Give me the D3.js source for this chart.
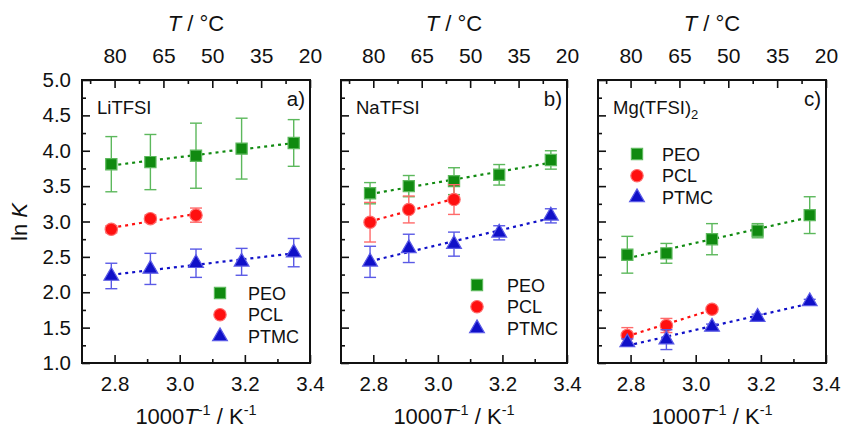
<!DOCTYPE html>
<html>
<head>
<meta charset="utf-8">
<script src="https://cdn.jsdelivr.net/npm/d3@7"></script>
<style>
  body { margin: 0; background: #fff; }
  svg { display: block; font-family: "Liberation Sans", Arial, sans-serif; }
  .tick text { font-family: "Liberation Sans", Arial, sans-serif; fill: #111; }
</style>
</head>
<body>
<svg id="chart" width="843" height="430"></svg>
<script>
// x positions, 1000/T in 1/K
const invT = [2.79, 2.91, 3.05, 3.19, 3.35];
const xTicks = [2.8, 3.0, 3.2, 3.4];
const xMinor = [2.9, 3.1, 3.3];
const topTicks = [80, 65, 50, 35, 20];
const topMinor = [87.5, 72.5, 57.5, 42.5, 27.5];
const yTicks = [1.0, 1.5, 2.0, 2.5, 3.0, 3.5, 4.0, 4.5, 5.0];
const yMinor = [1.25, 1.75, 2.25, 2.75, 3.25, 3.75, 4.25, 4.75];

const salts = ["LiTFSI", "NaTFSI", "Mg(TFSI)"];
const letters = ["a)", "b)", "c)"];
const polymers = ["PEO", "PCL", "PTMC"];

// ln K values (PCL only measured at the three highest temperatures)
const liPEO = [3.81, 3.84, 3.93, 4.03, 4.11];
const liPEOErr = [0.39, 0.39, 0.46, 0.43, 0.33];
const liPCL = [2.89, 3.04, 3.09];
const liPCLErr = [0.05, 0.05, 0.1];
const liPTMC = [2.23, 2.33, 2.41, 2.43, 2.56];
const liPTMCErr = [0.18, 0.22, 0.2, 0.19, 0.2];

const naPEO = [3.40, 3.50, 3.57, 3.66, 3.87];
const naPEOErr = [0.15, 0.15, 0.19, 0.145, 0.13];
const naPCL = [2.99, 3.17, 3.31];
const naPCLErr = [0.28, 0.19, 0.21];
const naPTMC = [2.43, 2.62, 2.68, 2.84, 3.08];
const naPTMCErr = [0.22, 0.2, 0.17, 0.1, 0.1];

const mgPEO = [2.53, 2.55, 2.75, 2.87, 3.09];
const mgPEOErr = [0.26, 0.14, 0.22, 0.1, 0.26];
const mgPCL = [1.39, 1.53, 1.76];
const mgPCLErr = [0.11, 0.1, 0.03];
const mgPTMC = [1.29, 1.33, 1.51, 1.65, 1.87];
const mgPTMCErr = [0.05, 0.14, 0.04, 0.04, 0.03];

const panelData = [
  [[liPEO, liPEOErr], [liPCL, liPCLErr], [liPTMC, liPTMCErr]],
  [[naPEO, naPEOErr], [naPCL, naPCLErr], [naPTMC, naPTMCErr]],
  [[mgPEO, mgPEOErr], [mgPCL, mgPCLErr], [mgPTMC, mgPTMCErr]]
];

// styling
const fill = ["#108a10", "#ff1010", "#1010c8"];
const light = ["#5cb85c", "#ff6a6a", "#5a5ae6"];
const symbols = [d3.symbolSquare, d3.symbolCircle, d3.symbolTriangle];
const symSize = [125, 120, 95];

const panelX = [[82, 310], [341, 567], [598, 826]];
const legendPos = [[220, 248, 293], [477, 507, 285], [637, 662, 154]];
const yTop = 80, yBot = 363;

const svg = d3.select("#chart");
const y = d3.scaleLinear().domain([1.0, 5.0]).range([yBot, yTop]);

function fit(xs, ys) {
  let n = xs.length, mx = d3.mean(xs), my = d3.mean(ys);
  let sxy = 0, sxx = 0;
  for (let i = 0; i < n; i++) {
    sxy += (xs[i] - mx) * (ys[i] - my);
    sxx += (xs[i] - mx) * (xs[i] - mx);
  }
  let b = sxy / sxx;
  return function(v) { return my + b * (v - mx); };
}

panelX.forEach(function(px, p) {
  let x = d3.scaleLinear().domain([2.7, 3.4]).range(px);
  // top T axis is drawn linear in temperature, as in the original figure
  let xt = d3.scaleLinear().domain([80, 20]).range([x(2.8), px[1]]);
  let g = svg.append("g");

  // axes
  g.append("g").attr("transform", "translate(0," + yBot + ")")
    .call(d3.axisBottom(x).tickValues(xTicks).tickFormat(d3.format(".1f")).tickSize(-8).tickPadding(13))
    .call(a => a.selectAll("text").style("font-size", "20.5px"));
  g.append("g").attr("transform", "translate(0," + yBot + ")")
    .call(d3.axisBottom(x).tickValues(xMinor).tickFormat("").tickSize(-4));
  g.append("g").attr("transform", "translate(0," + yTop + ")")
    .call(d3.axisTop(xt).tickValues(topTicks).tickSize(-8).tickPadding(17))
    .call(a => a.selectAll("text").style("font-size", "21px"));
  g.append("g").attr("transform", "translate(0," + yTop + ")")
    .call(d3.axisTop(xt).tickValues(topMinor).tickFormat("").tickSize(-4));
  let ya = d3.axisLeft(y).tickValues(yTicks).tickSize(-8).tickPadding(11)
    .tickFormat(p == 0 ? d3.format(".1f") : "");
  g.append("g").attr("transform", "translate(" + px[0] + ",0)").call(ya)
    .call(a => a.selectAll("text").style("font-size", "20.5px"));
  g.append("g").attr("transform", "translate(" + px[0] + ",0)")
    .call(d3.axisLeft(y).tickValues(yMinor).tickFormat("").tickSize(-4));
  g.selectAll(".domain").remove();
  g.selectAll(".tick line").attr("stroke", "#111").attr("stroke-width", 1.6);

  g.append("rect").attr("x", px[0]).attr("y", yTop)
    .attr("width", px[1] - px[0]).attr("height", yBot - yTop)
    .attr("fill", "none").attr("stroke", "#111").attr("stroke-width", 2);

  // axis titles
  let cx = (px[0] + px[1]) / 2;
  let tt = g.append("text").attr("x", cx).attr("y", 31).attr("text-anchor", "middle")
    .style("font-size", "22px").attr("fill", "#111");
  tt.append("tspan").style("font-style", "italic").text("T");
  tt.append("tspan").text(" / °C");

  let bt = g.append("text").attr("x", cx).attr("y", 424).attr("text-anchor", "middle")
    .style("font-size", "22px").attr("fill", "#111");
  bt.append("tspan").text("1000");
  bt.append("tspan").style("font-style", "italic").text("T");
  bt.append("tspan").attr("dy", -9).style("font-size", "14.5px").text("-1");
  bt.append("tspan").attr("dy", 9).text(" / K");
  bt.append("tspan").attr("dy", -9).style("font-size", "14.5px").text("-1");

  // panel labels
  let st = g.append("text").attr("x", px[0] + 15).attr("y", 114)
    .style("font-size", "18.5px").attr("fill", "#111").text(salts[p]);
  if (p == 2) st.append("tspan").attr("dy", 5).style("font-size", "13px").text("2");
  g.append("text").attr("x", px[1] - 5).attr("y", 106).attr("text-anchor", "end")
    .style("font-size", "20.5px").attr("fill", "#111").text(letters[p]);

  // series
  panelData[p].forEach(function(s, k) {
    let vals = s[0], errs = s[1];
    let xs = invT.slice(0, vals.length);
    let f = fit(xs, vals);
    g.append("line")
      .attr("x1", x(xs[0])).attr("y1", y(f(xs[0])))
      .attr("x2", x(xs[xs.length - 1])).attr("y2", y(f(xs[xs.length - 1])))
      .attr("stroke", fill[k]).attr("stroke-width", 2.2)
      .attr("stroke-dasharray", "3,4");

    let pts = vals.map((v, i) => ({x: xs[i], v: v, e: errs[i]}));
    let eb = g.append("g").attr("stroke", light[k]).attr("stroke-width", 1.4);
    eb.selectAll(".v").data(pts).enter().append("line")
      .attr("x1", d => x(d.x)).attr("x2", d => x(d.x))
      .attr("y1", d => y(d.v + d.e)).attr("y2", d => y(d.v - d.e));
    eb.selectAll(".t").data(pts).enter().append("line")
      .attr("x1", d => x(d.x) - 6).attr("x2", d => x(d.x) + 6)
      .attr("y1", d => y(d.v + d.e)).attr("y2", d => y(d.v + d.e));
    eb.selectAll(".b").data(pts).enter().append("line")
      .attr("x1", d => x(d.x) - 6).attr("x2", d => x(d.x) + 6)
      .attr("y1", d => y(d.v - d.e)).attr("y2", d => y(d.v - d.e));

    g.selectAll(null).data(pts).enter().append("path")
      .attr("transform", d => "translate(" + x(d.x) + "," + y(d.v) + ")")
      .attr("d", d3.symbol().type(symbols[k]).size(symSize[k]))
      .attr("fill", fill[k]).attr("stroke", light[k]).attr("stroke-width", 1.2);
  });

  // legend
  let lp = legendPos[p];
  polymers.forEach(function(name, k) {
    let ly = lp[2] + k * 21.7;
    g.append("path").attr("transform", "translate(" + lp[0] + "," + ly + ")")
      .attr("d", d3.symbol().type(symbols[k]).size(symSize[k]))
      .attr("fill", fill[k]).attr("stroke", light[k]).attr("stroke-width", 1.2);
    g.append("text").attr("x", lp[1]).attr("y", ly + 6.5)
      .style("font-size", "18px").attr("fill", "#111").text(name);
  });
});

// y axis title
let yl = svg.append("text").attr("transform", "translate(27,222) rotate(-90)")
  .attr("text-anchor", "middle").style("font-size", "22px").attr("fill", "#111");
yl.append("tspan").text("ln ");
yl.append("tspan").style("font-style", "italic").text("K");
</script>
</body>
</html>
